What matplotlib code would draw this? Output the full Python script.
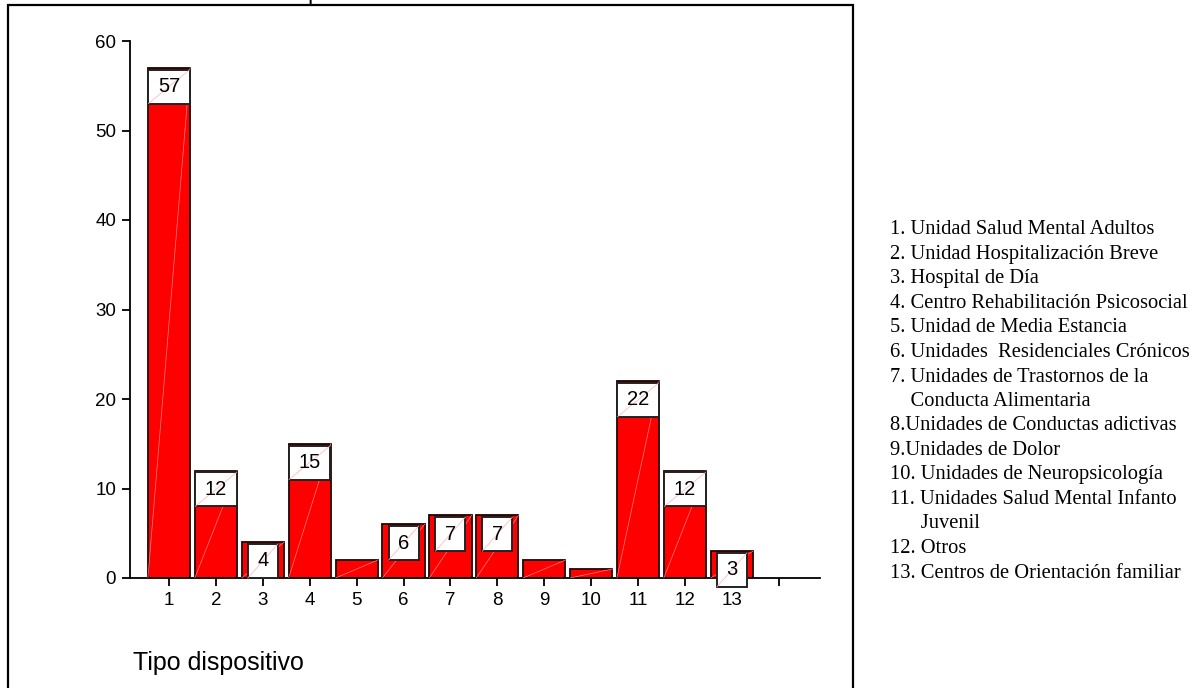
import matplotlib.pyplot as plt
from matplotlib.patches import Rectangle

# data
categorias = list(range(1, 14))
valores = [57, 12, 4, 15, 2, 6, 7, 7, 2, 1, 22, 12, 3]
etiquetas = ['57', '12', '4', '15', '', '6', '7', '7', '', '', '22', '12', '3']
leyenda = [
    '1. Unidad Salud Mental Adultos',
    '2. Unidad Hospitalización Breve',
    '3. Hospital de Día',
    '4. Centro Rehabilitación Psicosocial',
    '5. Unidad de Media Estancia',
    '6. Unidades  Residenciales Crónicos',
    '7. Unidades de Trastornos de la',
    '    Conducta Alimentaria',
    '8.Unidades de Conductas adictivas',
    '9.Unidades de Dolor',
    '10. Unidades de Neuropsicología',
    '11. Unidades Salud Mental Infanto',
    '      Juvenil',
    '12. Otros',
    '13. Centros de Orientación familiar',
]

W, H = 1202, 688
fig = plt.figure(figsize=(W / 100, H / 100), dpi=100)
ax = fig.add_axes([130 / W, 1 - 578 / H, 690 / W, 537 / H])

ancho = 0.9
ax.bar(categorias, valores, width=ancho, color='#ff0000', edgecolor='#200000', linewidth=1.3, zorder=2)

# faint diagonal streak inside each bar
for x, v in zip(categorias, valores):
    ax.plot([x - ancho / 2, x + ancho / 2], [0, v], color='#ff8080', lw=0.5, zorder=3)

# white label boxes at the top of the bars
for x, v, t in zip(categorias, valores, etiquetas):
    if not t:
        continue
    bw = 0.88 if len(t) > 1 else 0.64
    top = v - 0.2
    bot = top - 3.8
    ax.add_patch(Rectangle((x - bw / 2, bot), bw, top - bot, facecolor='white',
                           edgecolor='#222222', linewidth=1.4, zorder=4, clip_on=False))
    ax.plot([x - bw / 2, x + bw / 2], [bot, top], color='#ffb0b0', lw=0.5, zorder=5, clip_on=False)
    ax.text(x, (top + bot) / 2, t, ha='center', va='center', fontsize=14.5,
            family='Liberation Sans', zorder=6)

ax.set_xlim(0.168, 14.88)
ax.set_ylim(0, 60)
ax.set_xticks(list(range(1, 15)))
ax.set_xticklabels([str(c) for c in categorias] + [''])
ax.set_yticks([0, 10, 20, 30, 40, 50, 60])
ax.tick_params(direction='out', length=6, width=1.3, labelsize=13.5, pad=4)
for lab in ax.get_xticklabels() + ax.get_yticklabels():
    lab.set_family('Liberation Sans')
ax.spines['top'].set_visible(False)
ax.spines['right'].set_visible(False)
ax.spines['left'].set_linewidth(1.3)
ax.spines['bottom'].set_linewidth(1.3)
ax.patch.set_alpha(0)

# outer frame
fig.patches.append(Rectangle((8 / W, -0.05), 845 / W, 1.05 - 5 / H, transform=fig.transFigure,
                             fill=False, edgecolor='black', linewidth=1.6))

fig.text(133 / W, 1 - 663 / H, 'Tipo dispositivo', fontsize=18, family='Liberation Sans',
         va='center', ha='left')
# clipped title above the frame
fig.text(307 / W, 1 + 1 / H, 'p', fontsize=17, family='Liberation Sans', va='baseline', ha='left')

y0 = 230
for i, linea in enumerate(leyenda):
    fig.text(890 / W, 1 - (y0 + i * 24.5) / H, linea, fontsize=14.8, family='Liberation Serif',
             va='center', ha='left')

fig.savefig('out.png', dpi=100)
